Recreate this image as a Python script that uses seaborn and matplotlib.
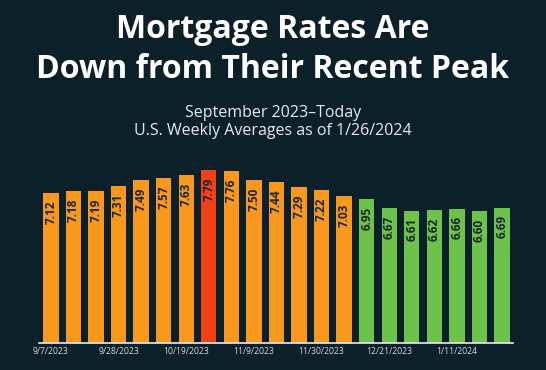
import matplotlib
matplotlib.use("Agg")
import matplotlib.pyplot as plt
import pandas as pd
import seaborn as sns

# Weekly averages, Sept 2023 - Jan 2024
weeks = ["9/7/2023", "9/14/2023", "9/21/2023", "9/28/2023", "10/5/2023",
         "10/12/2023", "10/19/2023", "10/26/2023", "11/2/2023", "11/9/2023",
         "11/16/2023", "11/22/2023", "11/30/2023", "12/7/2023", "12/14/2023",
         "12/21/2023", "12/28/2023", "1/4/2024", "1/11/2024", "1/18/2024",
         "1/25/2024"]
rates = [7.12, 7.18, 7.19, 7.31, 7.49, 7.57, 7.63, 7.79, 7.76, 7.50, 7.44,
         7.29, 7.22, 7.03, 6.95, 6.67, 6.61, 6.62, 6.66, 6.60, 6.69]
groups = ["rise"] * 7 + ["peak"] + ["rise"] * 6 + ["below7"] * 7
shown_ticks = ["9/7/2023", "9/28/2023", "10/19/2023", "11/9/2023",
               "11/30/2023", "12/21/2023", "1/11/2024"]

BG = "#0c202a"
palette = {"rise": "#f8991d", "peak": "#ef4018", "below7": "#6cc24a"}

df = pd.DataFrame({"week": weeks, "rate": rates, "group": groups})

sns.set_theme(style="dark")
plt.rcParams["font.family"] = ["Open Sans", "DejaVu Sans"]

fig = plt.figure(figsize=(5.46, 3.70), dpi=100, facecolor=BG)
ax = fig.add_axes([39 / 546, 27 / 370, 474 / 546, 173 / 370])
ax.set_facecolor(BG)

sns.barplot(data=df, x="week", y="rate", hue="group", palette=palette,
            order=weeks, dodge=False, width=0.68, legend=False,
            saturation=1, linewidth=0, ax=ax)

for i, v in enumerate(rates):
    ax.text(i, v - 0.22, f"{v:.2f}", rotation=90, ha="center", va="top",
            fontsize=8.5, fontweight="bold", color="#1b2524")

ax.set_ylim(2.75, 7.79)
ax.set_xlim(-0.53, 20.49)
ax.set_yticks([])
ax.set_xticks([weeks.index(t) for t in shown_ticks])
ax.set_xticklabels(shown_ticks, fontsize=6.2, color="#d3d9dc")
ax.tick_params(axis="x", length=0, pad=3)
ax.set_xlabel("")
ax.set_ylabel("")
for side in ["top", "left", "right"]:
    ax.spines[side].set_visible(False)
ax.spines["bottom"].set_color("#e8ecee")
ax.spines["bottom"].set_linewidth(1.2)

title_kw = dict(ha="center", va="center", fontsize=23, fontweight="bold",
                color="white")
fig.text(0.5, 1 - 30 / 370, "Mortgage Rates Are", **title_kw)
fig.text(0.5, 1 - 70 / 370, "Down from Their Recent Peak", **title_kw)
sub_kw = dict(ha="center", va="center", fontsize=11.5, color="#e6eaec")
fig.text(0.5, 1 - 113 / 370, "September 2023\u2013Today", **sub_kw)
fig.text(0.5, 1 - 131 / 370, "U.S. Weekly Averages as of 1/26/2024", **sub_kw)

fig.savefig("out.png", dpi=100, facecolor=BG)
